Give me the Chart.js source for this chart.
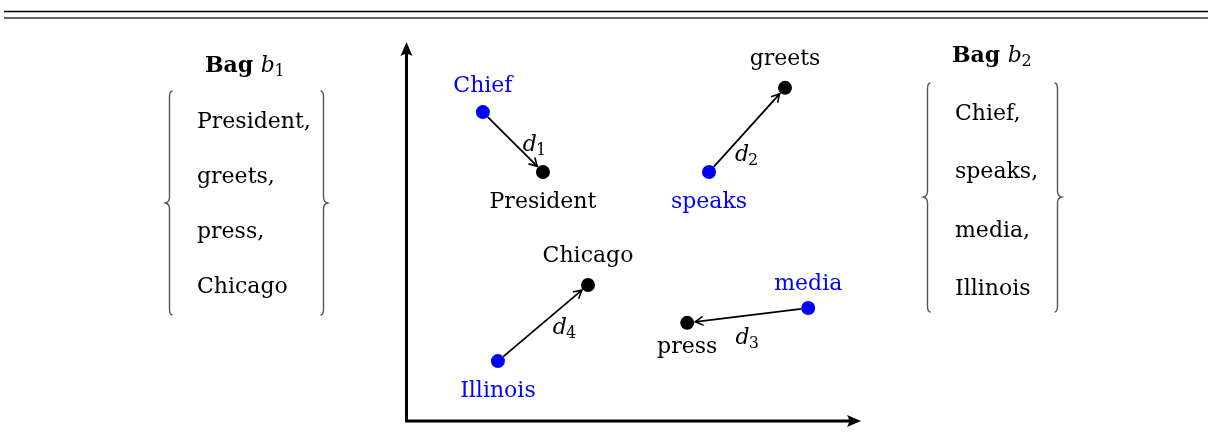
<!DOCTYPE html>
<html>
<head>
<meta charset="utf-8">
<script src="https://cdn.jsdelivr.net/npm/chart.js@4"></script>
<style>
  html, body { margin: 0; padding: 0; background: #fff; }
  #wrap { width: 1208px; height: 438px; }
</style>
</head>
<body>
<div id="wrap"><canvas id="chart" width="1208" height="438"></canvas></div>
<script>
// bag b1 words (black) and bag b2 words (blue), positions in the embedding plane
const bag1Words = ['President', 'greets', 'press', 'Chicago'];
const bag1X     = [30.1, 83.3, 61.8, 40.0];
const bag1Y     = [65.7, 87.9, 25.9, 35.9];

const bag2Words = ['Chief', 'speaks', 'media', 'Illinois'];
const bag2X     = [16.9, 66.6, 88.4, 20.2];
const bag2Y     = [81.5, 65.7, 29.8, 15.8];

// travel: bag2 word index -> bag1 word index, distance subscript
const moveFrom  = [0, 1, 2, 3];
const moveTo    = [0, 1, 2, 3];
const moveNames = ['1', '2', '3', '4'];

// lists written beside the plot
const bag1List = ['President,', 'greets,', 'press,', 'Chicago'];
const bag2List = ['Chief,', 'speaks,', 'media,', 'Illinois'];

// ---- layout / style ----
const FONT = '"DejaVu Serif", "Liberation Serif", serif';
const BLUE = '#0000ff';
const DOT_R = 7;
const label1Dy = [36, -23, 30, -23];
const label2Dy = [-20, 36, -18, 36];
const moveLabelOff = [[22, 2], [0, 24], [0, 22], [22, 4]];

function subText(ctx, x, y, main, sub, mainFont, align) {
    ctx.font = mainFont;
    const w1 = ctx.measureText(main).width;
    ctx.font = '16px ' + FONT;
    const w2 = ctx.measureText(sub).width;
    const start = align === 'center' ? x - (w1 + w2) / 2 : x;
    ctx.textAlign = 'left';
    ctx.font = mainFont;
    ctx.fillText(main, start, y);
    ctx.font = '16px ' + FONT;
    ctx.fillText(sub, start + w1 - 1, y + 4);
}

function bagTitle(ctx, cx, y, idx) {
    ctx.fillStyle = '#000';
    ctx.textBaseline = 'alphabetic';
    ctx.font = 'bold 22px ' + FONT;
    const wb = ctx.measureText('Bag ').width;
    ctx.font = 'italic 22px ' + FONT;
    const wi = ctx.measureText('b').width;
    ctx.font = '16px ' + FONT;
    const ws = ctx.measureText(idx).width;
    let x = cx - (wb + wi + ws) / 2;
    ctx.textAlign = 'left';
    ctx.font = 'bold 22px ' + FONT;
    ctx.fillText('Bag ', x, y);
    ctx.font = 'italic 22px ' + FONT;
    ctx.fillText('b', x + wb, y);
    ctx.font = '16px ' + FONT;
    ctx.fillText(idx, x + wb + wi - 0.5, y + 4);
}

function brace(ctx, x, top, bottom, tipY, dir) {
    ctx.beginPath();
    ctx.moveTo(x - dir * 3, top);
    ctx.quadraticCurveTo(x, top, x, top + 6);
    ctx.lineTo(x, tipY - 6);
    ctx.quadraticCurveTo(x, tipY - 1, x + dir * 4, tipY);
    ctx.quadraticCurveTo(x, tipY + 1, x, tipY + 6);
    ctx.lineTo(x, bottom - 6);
    ctx.quadraticCurveTo(x, bottom, x - dir * 3, bottom);
    ctx.stroke();
}

const sketchPlugin = {
    id: 'sketch',
    beforeDatasetsDraw(chart) {
        const ctx = chart.ctx;
        const a = chart.chartArea;
        const xs = chart.scales.x, ys = chart.scales.y;
        ctx.save();
        // top rules
        ctx.strokeStyle = '#000';
        ctx.lineWidth = 1.5;
        ctx.beginPath(); ctx.moveTo(4, 11.5); ctx.lineTo(1208, 11.5); ctx.stroke();
        ctx.strokeStyle = '#666';
        ctx.lineWidth = 2;
        ctx.beginPath(); ctx.moveTo(4, 18); ctx.lineTo(1208, 18); ctx.stroke();

        // axes with arrow tips
        const ox = a.left + 0.5, oy = a.bottom;
        ctx.strokeStyle = '#000';
        ctx.fillStyle = '#000';
        ctx.lineWidth = 3;
        ctx.beginPath();
        ctx.moveTo(ox, oy + 1.5); ctx.lineTo(ox, a.top + 10);
        ctx.moveTo(ox - 1.5, oy); ctx.lineTo(a.right - 10, oy);
        ctx.stroke();
        ctx.beginPath();
        ctx.moveTo(ox, a.top);
        ctx.lineTo(ox - 6, a.top + 14);
        ctx.quadraticCurveTo(ox, a.top + 10, ox + 6, a.top + 14);
        ctx.closePath(); ctx.fill();
        ctx.beginPath();
        ctx.moveTo(a.right, oy);
        ctx.lineTo(a.right - 14, oy - 6);
        ctx.quadraticCurveTo(a.right - 10, oy, a.right - 14, oy + 6);
        ctx.closePath(); ctx.fill();

        // transport arrows
        moveFrom.forEach((fi, k) => {
            const ti = moveTo[k];
            const x1 = xs.getPixelForValue(bag2X[fi]), y1 = ys.getPixelForValue(bag2Y[fi]);
            const x2 = xs.getPixelForValue(bag1X[ti]), y2 = ys.getPixelForValue(bag1Y[ti]);
            const len = Math.hypot(x2 - x1, y2 - y1);
            const ux = (x2 - x1) / len, uy = (y2 - y1) / len;
            const sx = x1 + ux * DOT_R, sy = y1 + uy * DOT_R;
            const ex = x2 - ux * (DOT_R + 1), ey = y2 - uy * (DOT_R + 1);
            ctx.lineWidth = 1.8;
            ctx.beginPath(); ctx.moveTo(sx, sy); ctx.lineTo(ex, ey); ctx.stroke();
            const px = -uy, py = ux;
            ctx.lineWidth = 1.6;
            ctx.beginPath();
            ctx.moveTo(ex - ux * 8 + px * 4.5, ey - uy * 8 + py * 4.5);
            ctx.quadraticCurveTo(ex - ux * 2 + px * 1, ey - uy * 2 + py * 1, ex, ey);
            ctx.quadraticCurveTo(ex - ux * 2 - px * 1, ey - uy * 2 - py * 1, ex - ux * 8 - px * 4.5, ey - uy * 8 - py * 4.5);
            ctx.stroke();

            // distance label d_k
            const off = moveLabelOff[k];
            const mx = (x1 + x2) / 2 + off[0], my = (y1 + y2) / 2 + off[1];
            ctx.fillStyle = '#000';
            ctx.textBaseline = 'alphabetic';
            subText(ctx, mx, my + 7, 'd', moveNames[k], 'italic 22px ' + FONT, 'center');
        });
        ctx.restore();
    },
    afterDatasetsDraw(chart) {
        const ctx = chart.ctx;
        const xs = chart.scales.x, ys = chart.scales.y;
        ctx.save();
        ctx.textAlign = 'center';
        ctx.textBaseline = 'alphabetic';
        ctx.font = '22px ' + FONT;
        ctx.fillStyle = '#000';
        bag1Words.forEach((w, i) => {
            ctx.fillText(w, xs.getPixelForValue(bag1X[i]), ys.getPixelForValue(bag1Y[i]) + label1Dy[i]);
        });
        ctx.fillStyle = BLUE;
        bag2Words.forEach((w, i) => {
            ctx.fillText(w, xs.getPixelForValue(bag2X[i]), ys.getPixelForValue(bag2Y[i]) + label2Dy[i]);
        });

        // the two bags
        bagTitle(ctx, 245, 72, '1');
        bagTitle(ctx, 992, 62, '2');
        ctx.fillStyle = '#000';
        ctx.textAlign = 'left';
        ctx.font = '22px ' + FONT;
        const base1 = [128, 183, 238, 293];
        bag1List.forEach((w, i) => ctx.fillText(w, 197, base1[i]));
        const base2 = [120, 178, 237, 295];
        bag2List.forEach((w, i) => ctx.fillText(w, 955, base2[i]));

        ctx.strokeStyle = '#555';
        ctx.lineWidth = 1.4;
        brace(ctx, 169.5, 91, 315, 203, -1);
        brace(ctx, 323.5, 91, 315, 203, 1);
        brace(ctx, 927.5, 83, 312, 197, -1);
        brace(ctx, 1057.5, 83, 312, 197, 1);
        ctx.restore();
    }
};

const pts = (xv, yv) => xv.map((x, i) => ({ x: x, y: yv[i] }));

new Chart(document.getElementById('chart'), {
    type: 'scatter',
    data: {
        datasets: [
            {
                label: 'Bag b1',
                data: pts(bag1X, bag1Y),
                backgroundColor: '#000',
                borderWidth: 0,
                pointRadius: DOT_R,
                pointHoverRadius: DOT_R
            },
            {
                label: 'Bag b2',
                data: pts(bag2X, bag2Y),
                backgroundColor: BLUE,
                borderWidth: 0,
                pointRadius: DOT_R,
                pointHoverRadius: DOT_R
            }
        ]
    },
    options: {
        responsive: false,
        animation: false,
        events: [],
        layout: { padding: { left: 406, right: 347, top: 42, bottom: 17 } },
        scales: {
            x: { type: 'linear', min: 0, max: 100, display: false },
            y: { type: 'linear', min: 0, max: 100, display: false }
        },
        plugins: {
            legend: { display: false },
            tooltip: { enabled: false }
        }
    },
    plugins: [sketchPlugin]
});
</script>
</body>
</html>
